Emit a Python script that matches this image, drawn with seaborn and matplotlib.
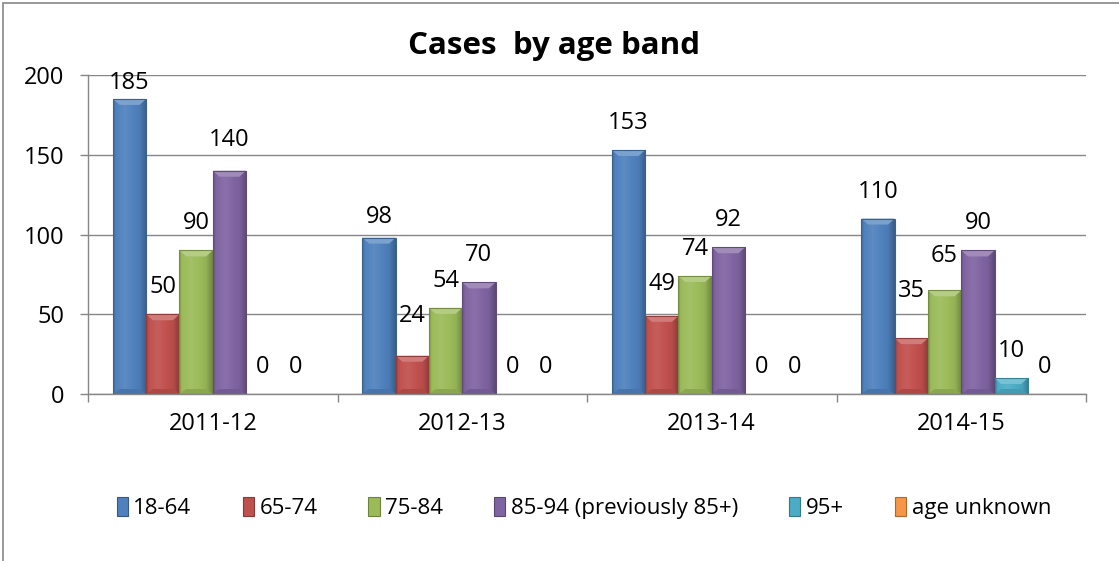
import numpy as np
import pandas as pd
import matplotlib
matplotlib.use("Agg")
import matplotlib.pyplot as plt
import matplotlib.colors as mcolors
from matplotlib.patches import Rectangle, Polygon, Patch
import seaborn as sns

# ---- data -------------------------------------------------------------
years = ["2011-12", "2012-13", "2013-14", "2014-15"]
bands = ["18-64", "65-74", "75-84", "85-94 (previously 85+)", "95+", "age unknown"]

cases_18_64 = [185, 98, 153, 110]
cases_65_74 = [50, 24, 49, 35]
cases_75_84 = [90, 54, 74, 65]
cases_85_94 = [140, 70, 92, 90]
cases_95_plus = [0, 0, 0, 10]
cases_unknown = [0, 0, 0, 0]

y_ticks = [0, 50, 100, 150, 200]
title = "Cases  by age band"

# ---- styling ----------------------------------------------------------
band_colors = ["#4F81BD", "#C0504D", "#9BBB59", "#8064A2", "#4BACC6", "#F79646"]
grid_grey = "#868686"
label_lift_px = 27
# a few value labels sit higher or lower than the rest
label_nudge_px = {
    ("2011-12", "18-64"): -11,
    ("2012-13", "18-64"): -6,
    ("2012-13", "65-74"): 13,
    ("2013-14", "65-74"): 5,
    ("2014-15", "65-74"): 20,
    ("2014-15", "75-84"): 7,
    ("2011-12", "85-94 (previously 85+)"): 4,
}

sns.set_style("white")
plt.rcParams["font.family"] = ["Open Sans", "DejaVu Sans"]
plt.rcParams["text.color"] = "black"
plt.rcParams["xtick.labelcolor"] = "black"
plt.rcParams["ytick.labelcolor"] = "black"
FS = 17

series = [cases_18_64, cases_65_74, cases_75_84, cases_85_94, cases_95_plus, cases_unknown]
df = pd.DataFrame(
    [(y, b, v[i]) for b, v in zip(bands, series) for i, y in enumerate(years)],
    columns=["year", "band", "cases"],
)

W, H = 1119, 561
fig = plt.figure(figsize=(W / 100, H / 100), dpi=100)
ax = fig.add_axes([88 / W, 1 - 394 / H, (1086 - 88) / W, (394 - 75) / H])

sns.barplot(
    data=df, x="year", y="cases", hue="band", order=years, hue_order=bands,
    palette=band_colors, width=0.8, saturation=1, linewidth=0,
    legend=False, ax=ax, zorder=2,
)

ax.set_ylim(0, 200)
ax.set_xlim(-0.5, len(years) - 0.5)
px_per_unit = ((394 - 75)) / 200.0


def shade(color, f):
    r, g, b = mcolors.to_rgb(color)
    if f >= 1:
        return tuple(c + (1 - c) * (f - 1) for c in (r, g, b))
    return tuple(c * f for c in (r, g, b))


# soft cylinder-like shading and a light bevel on top of each bar
prof_x = np.linspace(0, 1, 64)
profile = np.interp(prof_x, [0, 0.08, 0.35, 0.8, 1.0], [0.82, 1.0, 1.08, 0.95, 0.72])
for container, color in zip(ax.containers, band_colors):
    for bar in container:
        h = bar.get_height()
        if h <= 0:
            continue
        x0, w = bar.get_x(), bar.get_width()
        img = np.array([[shade(color, f) for f in profile]])
        im = ax.imshow(img, extent=[x0, x0 + w, 0, h], aspect="auto",
                       zorder=2.1, interpolation="bilinear")
        im.set_clip_path(bar)
        bev = min(6 / px_per_unit, h / 2)
        ax.add_patch(Polygon(
            [(x0, h), (x0 + w, h), (x0 + w * 0.8, h - bev), (x0 + w * 0.2, h - bev)],
            closed=True, facecolor=shade(color, 1.25), edgecolor="none", zorder=2.2))
        bot = min(5 / px_per_unit, h / 3)
        ax.add_patch(Polygon(
            [(x0, 0), (x0 + w, 0), (x0 + w * 0.8, bot), (x0 + w * 0.2, bot)],
            closed=True, facecolor=shade(color, 0.9), edgecolor="none", zorder=2.2))
        ax.add_patch(Rectangle((x0, 0), w, h, facecolor="none",
                               edgecolor=shade(color, 0.75), lw=0.8, zorder=2.3))

ax.set_ylim(0, 200)
ax.set_xlim(-0.5, len(years) - 0.5)

# value labels
for band, container in zip(bands, ax.containers):
    for year, bar in zip(years, container):
        h = bar.get_height()
        lift = label_lift_px + label_nudge_px.get((year, band), 0)
        ax.annotate(f"{int(round(h))}", xy=(bar.get_x() + bar.get_width() / 2, h),
                    xytext=(0, lift), textcoords="offset pixels",
                    ha="center", va="center", fontsize=FS, color="black", zorder=3)

# axes, grid and ticks
ax.set_yticks(y_ticks)
ax.set_yticklabels([str(t) for t in y_ticks])
ax.yaxis.grid(True, color=grid_grey, lw=1, zorder=0)
ax.set_axisbelow(True)
ax.set_xlabel("")
ax.set_ylabel("")
for s in ["top", "right"]:
    ax.spines[s].set_visible(False)
for s in ["left", "bottom"]:
    ax.spines[s].set_color(grid_grey)
    ax.spines[s].set_linewidth(1)
ax.tick_params(axis="y", direction="out", length=6, width=1, color=grid_grey,
               pad=11, labelsize=FS, left=True, labelcolor="black")
ax.tick_params(axis="x", which="major", length=0, pad=13, labelsize=FS,
               labelcolor="black")
ax.set_xticks(np.arange(-0.5, len(years)), minor=True)
ax.tick_params(axis="x", which="minor", direction="out", length=6, width=1,
               color=grid_grey, bottom=True)

# title
fig.text(554 / W, 1 - 46 / H, title, ha="center", va="center",
         fontsize=22.5, fontweight="bold", color="black")

# legend
handles = [Patch(facecolor=c, edgecolor=shade(c, 0.7), lw=0.8) for c in band_colors]
leg = fig.legend(handles, bands, loc="center", bbox_to_anchor=(584 / W, 1 - 508 / H),
                 ncol=6, frameon=False, fontsize=FS - 1, handlelength=0.5,
                 handleheight=0.9, handletextpad=0.25, columnspacing=2.3)
for t in leg.get_texts():
    t.set_color("black")

# chart-area border
fig.add_artist(Rectangle((3 / W, -0.1), 1.2, 1 - 3 / H + 0.1,
                         transform=fig.transFigure, facecolor="none",
                         edgecolor=grid_grey, lw=1.2))

fig.savefig("out.png", dpi=100)
